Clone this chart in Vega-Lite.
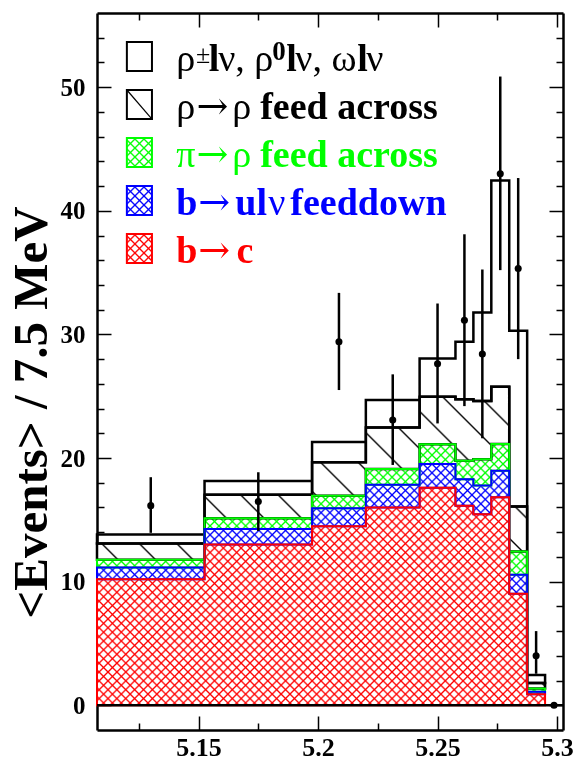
{
  "$schema": "https://vega.github.io/schema/vega-lite/v6.json",
  "width": 466,
  "height": 717,
  "autosize": {"type": "none"},
  "padding": {"left": 97, "top": 13, "right": 13, "bottom": 30},
  "background": "white",
  "config": {
    "view": {"stroke": null, "fill": "white"},
    "axis": {
      "grid": false, "zindex": 1, "labelFlush": false, "labelOverlap": false, "labelBound": false,
      "labelFont": "Liberation Serif", "labelFontWeight": "bold", "labelFontSize": 25, "labelColor": "#000",
      "tickColor": "#000", "tickWidth": 1.5, "domainColor": "#000", "domainWidth": 2.5,
      "titleFont": "Liberation Serif", "titleFontWeight": "bold", "titleColor": "#000"
    }
  },
  "datasets": {
    "bins": [
      {"lo": 5.1075, "hi": 5.1525, "bc": 10.2, "bu": 11.15, "pr": 11.77, "rr": 13.08, "sig": 13.82},
      {"lo": 5.1525, "hi": 5.1975, "bc": 13.0, "bu": 14.25, "pr": 15.13, "rr": 17.02, "sig": 18.15},
      {"lo": 5.1975, "hi": 5.22, "bc": 14.48, "bu": 15.94, "pr": 16.94, "rr": 19.66, "sig": 21.3},
      {"lo": 5.22, "hi": 5.2425, "bc": 16.0, "bu": 17.83, "pr": 19.12, "rr": 22.46, "sig": 24.69},
      {"lo": 5.2425, "hi": 5.2575, "bc": 17.6, "bu": 19.52, "pr": 21.11, "rr": 24.96, "sig": 28.06},
      {"lo": 5.2575, "hi": 5.265, "bc": 16.14, "bu": 18.29, "pr": 19.79, "rr": 24.76, "sig": 29.4},
      {"lo": 5.265, "hi": 5.2725, "bc": 15.46, "bu": 17.77, "pr": 19.9, "rr": 24.61, "sig": 31.77},
      {"lo": 5.2725, "hi": 5.28, "bc": 16.83, "bu": 18.98, "pr": 21.14, "rr": 25.77, "sig": 42.46},
      {"lo": 5.28, "hi": 5.2875, "bc": 9.02, "bu": 10.56, "pr": 12.44, "rr": 16.07, "sig": 30.3},
      {"lo": 5.2875, "hi": 5.295, "bc": 0.9, "bu": 1.1, "pr": 1.35, "rr": 1.8, "sig": 2.45}
    ],
    "points": [
      {"m": 5.13, "n": 16.15, "lo": 13.95, "hi": 18.45},
      {"m": 5.175, "n": 16.48, "lo": 14.1, "hi": 18.85},
      {"m": 5.20875, "n": 29.4, "lo": 25.5, "hi": 33.36},
      {"m": 5.23125, "n": 23.08, "lo": 19.44, "hi": 26.77},
      {"m": 5.25, "n": 27.63, "lo": 22.8, "hi": 32.5},
      {"m": 5.26125, "n": 31.15, "lo": 24.2, "hi": 38.1},
      {"m": 5.26875, "n": 28.41, "lo": 21.6, "hi": 35.25},
      {"m": 5.27625, "n": 43.0, "lo": 35.2, "hi": 50.86},
      {"m": 5.28375, "n": 35.33, "lo": 28.0, "hi": 42.65},
      {"m": 5.29125, "n": 4.0, "lo": 2.55, "hi": 6.0},
      {"m": 5.29875, "n": 0, "lo": 0, "hi": 0}
    ]
  },
  "resolve": {"axis": {"x": "independent", "y": "independent"}},
  "layer": [
    {
      "data": {"name": "bins"},
      "transform": [{"fold": ["lo", "hi"], "as": ["side", "x"]}],
      "mark": {"type": "area", "strokeWidth": 0, "fill": {"gradient": "linear", "x1": 0, "y1": 0, "x2": 1.1809, "y2": 0.6906, "stops": [
        {"offset":0,"color":"#000"},{"offset":0.0026,"color":"#fff"},{"offset":0.0099,"color":"#fff"},{"offset":0.0125,"color":"#000"},{"offset":0.0151,"color":"#fff"},{"offset":0.0224,"color":"#fff"},{"offset":0.025,"color":"#000"},{"offset":0.0276,"color":"#fff"},{"offset":0.0349,"color":"#fff"},{"offset":0.0375,"color":"#000"},{"offset":0.0401,"color":"#fff"},{"offset":0.0474,"color":"#fff"},{"offset":0.05,"color":"#000"},{"offset":0.0526,"color":"#fff"},{"offset":0.0599,"color":"#fff"},{"offset":0.0625,"color":"#000"},{"offset":0.0651,"color":"#fff"},{"offset":0.0724,"color":"#fff"},{"offset":0.075,"color":"#000"},{"offset":0.0776,"color":"#fff"},{"offset":0.0849,"color":"#fff"},{"offset":0.0875,"color":"#000"},{"offset":0.0901,"color":"#fff"},{"offset":0.0974,"color":"#fff"},
        {"offset":0.1,"color":"#000"},{"offset":0.1026,"color":"#fff"},{"offset":0.1099,"color":"#fff"},{"offset":0.1125,"color":"#000"},{"offset":0.1151,"color":"#fff"},{"offset":0.1224,"color":"#fff"},{"offset":0.125,"color":"#000"},{"offset":0.1276,"color":"#fff"},{"offset":0.1349,"color":"#fff"},{"offset":0.1375,"color":"#000"},{"offset":0.1401,"color":"#fff"},{"offset":0.1474,"color":"#fff"},{"offset":0.15,"color":"#000"},{"offset":0.1526,"color":"#fff"},{"offset":0.1599,"color":"#fff"},{"offset":0.1625,"color":"#000"},{"offset":0.1651,"color":"#fff"},{"offset":0.1724,"color":"#fff"},{"offset":0.175,"color":"#000"},{"offset":0.1776,"color":"#fff"},{"offset":0.1849,"color":"#fff"},{"offset":0.1875,"color":"#000"},{"offset":0.1901,"color":"#fff"},{"offset":0.1974,"color":"#fff"},
        {"offset":0.2,"color":"#000"},{"offset":0.2026,"color":"#fff"},{"offset":0.2099,"color":"#fff"},{"offset":0.2125,"color":"#000"},{"offset":0.2151,"color":"#fff"},{"offset":0.2224,"color":"#fff"},{"offset":0.225,"color":"#000"},{"offset":0.2276,"color":"#fff"},{"offset":0.2349,"color":"#fff"},{"offset":0.2375,"color":"#000"},{"offset":0.2401,"color":"#fff"},{"offset":0.2474,"color":"#fff"},{"offset":0.25,"color":"#000"},{"offset":0.2526,"color":"#fff"},{"offset":0.2599,"color":"#fff"},{"offset":0.2625,"color":"#000"},{"offset":0.2651,"color":"#fff"},{"offset":0.2724,"color":"#fff"},{"offset":0.275,"color":"#000"},{"offset":0.2776,"color":"#fff"},{"offset":0.2849,"color":"#fff"},{"offset":0.2875,"color":"#000"},{"offset":0.2901,"color":"#fff"},{"offset":0.2974,"color":"#fff"},
        {"offset":0.3,"color":"#000"},{"offset":0.3026,"color":"#fff"},{"offset":0.3099,"color":"#fff"},{"offset":0.3125,"color":"#000"},{"offset":0.3151,"color":"#fff"},{"offset":0.3224,"color":"#fff"},{"offset":0.325,"color":"#000"},{"offset":0.3276,"color":"#fff"},{"offset":0.3349,"color":"#fff"},{"offset":0.3375,"color":"#000"},{"offset":0.3401,"color":"#fff"},{"offset":0.3474,"color":"#fff"},{"offset":0.35,"color":"#000"},{"offset":0.3526,"color":"#fff"},{"offset":0.3599,"color":"#fff"},{"offset":0.3625,"color":"#000"},{"offset":0.3651,"color":"#fff"},{"offset":0.3724,"color":"#fff"},{"offset":0.375,"color":"#000"},{"offset":0.3776,"color":"#fff"},{"offset":0.3849,"color":"#fff"},{"offset":0.3875,"color":"#000"},{"offset":0.3901,"color":"#fff"},{"offset":0.3974,"color":"#fff"},
        {"offset":0.4,"color":"#000"},{"offset":0.4026,"color":"#fff"},{"offset":0.4099,"color":"#fff"},{"offset":0.4125,"color":"#000"},{"offset":0.4151,"color":"#fff"},{"offset":0.4224,"color":"#fff"},{"offset":0.425,"color":"#000"},{"offset":0.4276,"color":"#fff"},{"offset":0.4349,"color":"#fff"},{"offset":0.4375,"color":"#000"},{"offset":0.4401,"color":"#fff"},{"offset":0.4474,"color":"#fff"},{"offset":0.45,"color":"#000"},{"offset":0.4526,"color":"#fff"},{"offset":0.4599,"color":"#fff"},{"offset":0.4625,"color":"#000"},{"offset":0.4651,"color":"#fff"},{"offset":0.4724,"color":"#fff"},{"offset":0.475,"color":"#000"},{"offset":0.4776,"color":"#fff"},{"offset":0.4849,"color":"#fff"},{"offset":0.4875,"color":"#000"},{"offset":0.4901,"color":"#fff"},{"offset":0.4974,"color":"#fff"},
        {"offset":0.5,"color":"#000"},{"offset":0.5026,"color":"#fff"},{"offset":0.5099,"color":"#fff"},{"offset":0.5125,"color":"#000"},{"offset":0.5151,"color":"#fff"},{"offset":0.5224,"color":"#fff"},{"offset":0.525,"color":"#000"},{"offset":0.5276,"color":"#fff"},{"offset":0.5349,"color":"#fff"},{"offset":0.5375,"color":"#000"},{"offset":0.5401,"color":"#fff"},{"offset":0.5474,"color":"#fff"},{"offset":0.55,"color":"#000"},{"offset":0.5526,"color":"#fff"},{"offset":0.5599,"color":"#fff"},{"offset":0.5625,"color":"#000"},{"offset":0.5651,"color":"#fff"},{"offset":0.5724,"color":"#fff"},{"offset":0.575,"color":"#000"},{"offset":0.5776,"color":"#fff"},{"offset":0.5849,"color":"#fff"},{"offset":0.5875,"color":"#000"},{"offset":0.5901,"color":"#fff"},{"offset":0.5974,"color":"#fff"},
        {"offset":0.6,"color":"#000"},{"offset":0.6026,"color":"#fff"},{"offset":0.6099,"color":"#fff"},{"offset":0.6125,"color":"#000"},{"offset":0.6151,"color":"#fff"},{"offset":0.6224,"color":"#fff"},{"offset":0.625,"color":"#000"},{"offset":0.6276,"color":"#fff"},{"offset":0.6349,"color":"#fff"},{"offset":0.6375,"color":"#000"},{"offset":0.6401,"color":"#fff"},{"offset":0.6474,"color":"#fff"},{"offset":0.65,"color":"#000"},{"offset":0.6526,"color":"#fff"},{"offset":0.6599,"color":"#fff"},{"offset":0.6625,"color":"#000"},{"offset":0.6651,"color":"#fff"},{"offset":0.6724,"color":"#fff"},{"offset":0.675,"color":"#000"},{"offset":0.6776,"color":"#fff"},{"offset":0.6849,"color":"#fff"},{"offset":0.6875,"color":"#000"},{"offset":0.6901,"color":"#fff"},{"offset":0.6974,"color":"#fff"},
        {"offset":0.7,"color":"#000"},{"offset":0.7026,"color":"#fff"},{"offset":0.7099,"color":"#fff"},{"offset":0.7125,"color":"#000"},{"offset":0.7151,"color":"#fff"},{"offset":0.7224,"color":"#fff"},{"offset":0.725,"color":"#000"},{"offset":0.7276,"color":"#fff"},{"offset":0.7349,"color":"#fff"},{"offset":0.7375,"color":"#000"},{"offset":0.7401,"color":"#fff"},{"offset":0.7474,"color":"#fff"},{"offset":0.75,"color":"#000"},{"offset":0.7526,"color":"#fff"},{"offset":0.7599,"color":"#fff"},{"offset":0.7625,"color":"#000"},{"offset":0.7651,"color":"#fff"},{"offset":0.7724,"color":"#fff"},{"offset":0.775,"color":"#000"},{"offset":0.7776,"color":"#fff"},{"offset":0.7849,"color":"#fff"},{"offset":0.7875,"color":"#000"},{"offset":0.7901,"color":"#fff"},{"offset":0.7974,"color":"#fff"},
        {"offset":0.8,"color":"#000"},{"offset":0.8026,"color":"#fff"},{"offset":0.8099,"color":"#fff"},{"offset":0.8125,"color":"#000"},{"offset":0.8151,"color":"#fff"},{"offset":0.8224,"color":"#fff"},{"offset":0.825,"color":"#000"},{"offset":0.8276,"color":"#fff"},{"offset":0.8349,"color":"#fff"},{"offset":0.8375,"color":"#000"},{"offset":0.8401,"color":"#fff"},{"offset":0.8474,"color":"#fff"},{"offset":0.85,"color":"#000"},{"offset":0.8526,"color":"#fff"},{"offset":0.8599,"color":"#fff"},{"offset":0.8625,"color":"#000"},{"offset":0.8651,"color":"#fff"},{"offset":0.8724,"color":"#fff"},{"offset":0.875,"color":"#000"},{"offset":0.8776,"color":"#fff"},{"offset":0.8849,"color":"#fff"},{"offset":0.8875,"color":"#000"},{"offset":0.8901,"color":"#fff"},{"offset":0.8974,"color":"#fff"},
        {"offset":0.9,"color":"#000"},{"offset":0.9026,"color":"#fff"},{"offset":0.9099,"color":"#fff"},{"offset":0.9125,"color":"#000"},{"offset":0.9151,"color":"#fff"},{"offset":0.9224,"color":"#fff"},{"offset":0.925,"color":"#000"},{"offset":0.9276,"color":"#fff"},{"offset":0.9349,"color":"#fff"},{"offset":0.9375,"color":"#000"},{"offset":0.9401,"color":"#fff"},{"offset":0.9474,"color":"#fff"},{"offset":0.95,"color":"#000"},{"offset":0.9526,"color":"#fff"},{"offset":0.9599,"color":"#fff"},{"offset":0.9625,"color":"#000"},{"offset":0.9651,"color":"#fff"},{"offset":0.9724,"color":"#fff"},{"offset":0.975,"color":"#000"},{"offset":0.9776,"color":"#fff"},{"offset":0.9849,"color":"#fff"},{"offset":0.9875,"color":"#000"},{"offset":0.9901,"color":"#fff"},{"offset":0.9974,"color":"#fff"},
        {"offset":1,"color":"#000"}]}},
      "encoding": {
        "x": {"field": "x", "type": "quantitative", "scale": {"domain": [5.1075, 5.3025], "nice": false, "zero": false},
          "axis": {"orient": "bottom", "values": [5.15, 5.2, 5.25, 5.3], "format": "~g", "ticks": false, "domain": false, "labelPadding": 4, "labelFontSize": 26, "title": null}},
        "y": {"field": "pr", "type": "quantitative", "scale": {"domain": [-2, 56], "nice": false, "zero": false},
          "axis": {"orient": "left", "values": [0, 10, 20, 30, 40, 50], "format": "d", "ticks": false, "domain": false, "labelPadding": 12,
            "title": "<Events> / 7.5 MeV", "titleFont": "Liberation Serif", "titleFontWeight": "bold", "titleFontSize": 49, "titleAngle": 270, "titleX": -51, "titleY": 399, "titleAlign": "center", "titleBaseline": "alphabetic"}},
        "y2": {"datum": 0}
      }
    },
    {
      "data": {"name": "bins"},
      "transform": [{"fold": ["lo", "hi"], "as": ["side", "x"]}],
      "mark": {"type": "area", "strokeWidth": 0, "blend": "multiply", "fill": {"gradient": "linear", "x1": 0, "y1": 1, "x2": 1.1809, "y2": 0.3094, "stops": [
        {"offset":0,"color":"#000"},{"offset":0.0026,"color":"#fff"},{"offset":0.0099,"color":"#fff"},{"offset":0.0125,"color":"#000"},{"offset":0.0151,"color":"#fff"},{"offset":0.0224,"color":"#fff"},{"offset":0.025,"color":"#000"},{"offset":0.0276,"color":"#fff"},{"offset":0.0349,"color":"#fff"},{"offset":0.0375,"color":"#000"},{"offset":0.0401,"color":"#fff"},{"offset":0.0474,"color":"#fff"},{"offset":0.05,"color":"#000"},{"offset":0.0526,"color":"#fff"},{"offset":0.0599,"color":"#fff"},{"offset":0.0625,"color":"#000"},{"offset":0.0651,"color":"#fff"},{"offset":0.0724,"color":"#fff"},{"offset":0.075,"color":"#000"},{"offset":0.0776,"color":"#fff"},{"offset":0.0849,"color":"#fff"},{"offset":0.0875,"color":"#000"},{"offset":0.0901,"color":"#fff"},{"offset":0.0974,"color":"#fff"},
        {"offset":0.1,"color":"#000"},{"offset":0.1026,"color":"#fff"},{"offset":0.1099,"color":"#fff"},{"offset":0.1125,"color":"#000"},{"offset":0.1151,"color":"#fff"},{"offset":0.1224,"color":"#fff"},{"offset":0.125,"color":"#000"},{"offset":0.1276,"color":"#fff"},{"offset":0.1349,"color":"#fff"},{"offset":0.1375,"color":"#000"},{"offset":0.1401,"color":"#fff"},{"offset":0.1474,"color":"#fff"},{"offset":0.15,"color":"#000"},{"offset":0.1526,"color":"#fff"},{"offset":0.1599,"color":"#fff"},{"offset":0.1625,"color":"#000"},{"offset":0.1651,"color":"#fff"},{"offset":0.1724,"color":"#fff"},{"offset":0.175,"color":"#000"},{"offset":0.1776,"color":"#fff"},{"offset":0.1849,"color":"#fff"},{"offset":0.1875,"color":"#000"},{"offset":0.1901,"color":"#fff"},{"offset":0.1974,"color":"#fff"},
        {"offset":0.2,"color":"#000"},{"offset":0.2026,"color":"#fff"},{"offset":0.2099,"color":"#fff"},{"offset":0.2125,"color":"#000"},{"offset":0.2151,"color":"#fff"},{"offset":0.2224,"color":"#fff"},{"offset":0.225,"color":"#000"},{"offset":0.2276,"color":"#fff"},{"offset":0.2349,"color":"#fff"},{"offset":0.2375,"color":"#000"},{"offset":0.2401,"color":"#fff"},{"offset":0.2474,"color":"#fff"},{"offset":0.25,"color":"#000"},{"offset":0.2526,"color":"#fff"},{"offset":0.2599,"color":"#fff"},{"offset":0.2625,"color":"#000"},{"offset":0.2651,"color":"#fff"},{"offset":0.2724,"color":"#fff"},{"offset":0.275,"color":"#000"},{"offset":0.2776,"color":"#fff"},{"offset":0.2849,"color":"#fff"},{"offset":0.2875,"color":"#000"},{"offset":0.2901,"color":"#fff"},{"offset":0.2974,"color":"#fff"},
        {"offset":0.3,"color":"#000"},{"offset":0.3026,"color":"#fff"},{"offset":0.3099,"color":"#fff"},{"offset":0.3125,"color":"#000"},{"offset":0.3151,"color":"#fff"},{"offset":0.3224,"color":"#fff"},{"offset":0.325,"color":"#000"},{"offset":0.3276,"color":"#fff"},{"offset":0.3349,"color":"#fff"},{"offset":0.3375,"color":"#000"},{"offset":0.3401,"color":"#fff"},{"offset":0.3474,"color":"#fff"},{"offset":0.35,"color":"#000"},{"offset":0.3526,"color":"#fff"},{"offset":0.3599,"color":"#fff"},{"offset":0.3625,"color":"#000"},{"offset":0.3651,"color":"#fff"},{"offset":0.3724,"color":"#fff"},{"offset":0.375,"color":"#000"},{"offset":0.3776,"color":"#fff"},{"offset":0.3849,"color":"#fff"},{"offset":0.3875,"color":"#000"},{"offset":0.3901,"color":"#fff"},{"offset":0.3974,"color":"#fff"},
        {"offset":0.4,"color":"#000"},{"offset":0.4026,"color":"#fff"},{"offset":0.4099,"color":"#fff"},{"offset":0.4125,"color":"#000"},{"offset":0.4151,"color":"#fff"},{"offset":0.4224,"color":"#fff"},{"offset":0.425,"color":"#000"},{"offset":0.4276,"color":"#fff"},{"offset":0.4349,"color":"#fff"},{"offset":0.4375,"color":"#000"},{"offset":0.4401,"color":"#fff"},{"offset":0.4474,"color":"#fff"},{"offset":0.45,"color":"#000"},{"offset":0.4526,"color":"#fff"},{"offset":0.4599,"color":"#fff"},{"offset":0.4625,"color":"#000"},{"offset":0.4651,"color":"#fff"},{"offset":0.4724,"color":"#fff"},{"offset":0.475,"color":"#000"},{"offset":0.4776,"color":"#fff"},{"offset":0.4849,"color":"#fff"},{"offset":0.4875,"color":"#000"},{"offset":0.4901,"color":"#fff"},{"offset":0.4974,"color":"#fff"},
        {"offset":0.5,"color":"#000"},{"offset":0.5026,"color":"#fff"},{"offset":0.5099,"color":"#fff"},{"offset":0.5125,"color":"#000"},{"offset":0.5151,"color":"#fff"},{"offset":0.5224,"color":"#fff"},{"offset":0.525,"color":"#000"},{"offset":0.5276,"color":"#fff"},{"offset":0.5349,"color":"#fff"},{"offset":0.5375,"color":"#000"},{"offset":0.5401,"color":"#fff"},{"offset":0.5474,"color":"#fff"},{"offset":0.55,"color":"#000"},{"offset":0.5526,"color":"#fff"},{"offset":0.5599,"color":"#fff"},{"offset":0.5625,"color":"#000"},{"offset":0.5651,"color":"#fff"},{"offset":0.5724,"color":"#fff"},{"offset":0.575,"color":"#000"},{"offset":0.5776,"color":"#fff"},{"offset":0.5849,"color":"#fff"},{"offset":0.5875,"color":"#000"},{"offset":0.5901,"color":"#fff"},{"offset":0.5974,"color":"#fff"},
        {"offset":0.6,"color":"#000"},{"offset":0.6026,"color":"#fff"},{"offset":0.6099,"color":"#fff"},{"offset":0.6125,"color":"#000"},{"offset":0.6151,"color":"#fff"},{"offset":0.6224,"color":"#fff"},{"offset":0.625,"color":"#000"},{"offset":0.6276,"color":"#fff"},{"offset":0.6349,"color":"#fff"},{"offset":0.6375,"color":"#000"},{"offset":0.6401,"color":"#fff"},{"offset":0.6474,"color":"#fff"},{"offset":0.65,"color":"#000"},{"offset":0.6526,"color":"#fff"},{"offset":0.6599,"color":"#fff"},{"offset":0.6625,"color":"#000"},{"offset":0.6651,"color":"#fff"},{"offset":0.6724,"color":"#fff"},{"offset":0.675,"color":"#000"},{"offset":0.6776,"color":"#fff"},{"offset":0.6849,"color":"#fff"},{"offset":0.6875,"color":"#000"},{"offset":0.6901,"color":"#fff"},{"offset":0.6974,"color":"#fff"},
        {"offset":0.7,"color":"#000"},{"offset":0.7026,"color":"#fff"},{"offset":0.7099,"color":"#fff"},{"offset":0.7125,"color":"#000"},{"offset":0.7151,"color":"#fff"},{"offset":0.7224,"color":"#fff"},{"offset":0.725,"color":"#000"},{"offset":0.7276,"color":"#fff"},{"offset":0.7349,"color":"#fff"},{"offset":0.7375,"color":"#000"},{"offset":0.7401,"color":"#fff"},{"offset":0.7474,"color":"#fff"},{"offset":0.75,"color":"#000"},{"offset":0.7526,"color":"#fff"},{"offset":0.7599,"color":"#fff"},{"offset":0.7625,"color":"#000"},{"offset":0.7651,"color":"#fff"},{"offset":0.7724,"color":"#fff"},{"offset":0.775,"color":"#000"},{"offset":0.7776,"color":"#fff"},{"offset":0.7849,"color":"#fff"},{"offset":0.7875,"color":"#000"},{"offset":0.7901,"color":"#fff"},{"offset":0.7974,"color":"#fff"},
        {"offset":0.8,"color":"#000"},{"offset":0.8026,"color":"#fff"},{"offset":0.8099,"color":"#fff"},{"offset":0.8125,"color":"#000"},{"offset":0.8151,"color":"#fff"},{"offset":0.8224,"color":"#fff"},{"offset":0.825,"color":"#000"},{"offset":0.8276,"color":"#fff"},{"offset":0.8349,"color":"#fff"},{"offset":0.8375,"color":"#000"},{"offset":0.8401,"color":"#fff"},{"offset":0.8474,"color":"#fff"},{"offset":0.85,"color":"#000"},{"offset":0.8526,"color":"#fff"},{"offset":0.8599,"color":"#fff"},{"offset":0.8625,"color":"#000"},{"offset":0.8651,"color":"#fff"},{"offset":0.8724,"color":"#fff"},{"offset":0.875,"color":"#000"},{"offset":0.8776,"color":"#fff"},{"offset":0.8849,"color":"#fff"},{"offset":0.8875,"color":"#000"},{"offset":0.8901,"color":"#fff"},{"offset":0.8974,"color":"#fff"},
        {"offset":0.9,"color":"#000"},{"offset":0.9026,"color":"#fff"},{"offset":0.9099,"color":"#fff"},{"offset":0.9125,"color":"#000"},{"offset":0.9151,"color":"#fff"},{"offset":0.9224,"color":"#fff"},{"offset":0.925,"color":"#000"},{"offset":0.9276,"color":"#fff"},{"offset":0.9349,"color":"#fff"},{"offset":0.9375,"color":"#000"},{"offset":0.9401,"color":"#fff"},{"offset":0.9474,"color":"#fff"},{"offset":0.95,"color":"#000"},{"offset":0.9526,"color":"#fff"},{"offset":0.9599,"color":"#fff"},{"offset":0.9625,"color":"#000"},{"offset":0.9651,"color":"#fff"},{"offset":0.9724,"color":"#fff"},{"offset":0.975,"color":"#000"},{"offset":0.9776,"color":"#fff"},{"offset":0.9849,"color":"#fff"},{"offset":0.9875,"color":"#000"},{"offset":0.9901,"color":"#fff"},{"offset":0.9974,"color":"#fff"},
        {"offset":1,"color":"#000"}]}},
      "encoding": {
        "x": {"field": "x", "type": "quantitative",
          "axis": {"orient": "bottom", "values": [5.15, 5.2, 5.25, 5.3], "labels": false, "tickSize": -14, "domain": true, "title": null}},
        "y": {"field": "pr", "type": "quantitative",
          "axis": {"orient": "left", "values": [0, 10, 20, 30, 40, 50], "labels": false, "tickSize": -14, "domain": true, "title": null}},
        "y2": {"datum": 0}
      }
    },
    {
      "data": {"name": "bins"},
      "transform": [{"fold": ["lo", "hi"], "as": ["side", "x"]}],
      "mark": {"type": "area", "strokeWidth": 0, "blend": "screen", "fill": "#ff0000"},
      "encoding": {
        "x": {"field": "x", "type": "quantitative",
          "axis": {"orient": "top", "values": [5.15, 5.2, 5.25, 5.3], "labels": false, "tickSize": -14, "domain": true, "title": null}},
        "y": {"field": "bc", "type": "quantitative",
          "axis": {"orient": "right", "values": [0, 10, 20, 30, 40, 50], "labels": false, "tickSize": -14, "domain": true, "title": null}},
        "y2": {"datum": 0}
      }
    },
    {
      "data": {"name": "bins"},
      "transform": [{"fold": ["lo", "hi"], "as": ["side", "x"]}],
      "mark": {"type": "area", "strokeWidth": 0, "blend": "screen", "fill": "#0000ff"},
      "encoding": {
        "x": {"field": "x", "type": "quantitative",
          "axis": {"orient": "bottom", "values": [5.125, 5.175, 5.225, 5.275], "labels": false, "tickSize": -7, "domain": false, "title": null}},
        "y": {"field": "bu", "type": "quantitative",
          "axis": {"orient": "left", "values": [2, 4, 6, 8, 12, 14, 16, 18, 22, 24, 26, 28, 32, 34, 36, 38, 42, 44, 46, 48, 52, 54], "labels": false, "tickSize": -7, "domain": false, "title": null}},
        "y2": {"field": "bc"}
      }
    },
    {
      "data": {"name": "bins"},
      "transform": [{"fold": ["lo", "hi"], "as": ["side", "x"]}],
      "mark": {"type": "area", "strokeWidth": 0, "blend": "screen", "fill": "#00ff00"},
      "encoding": {
        "x": {"field": "x", "type": "quantitative",
          "axis": {"orient": "top", "values": [5.125, 5.175, 5.225, 5.275], "labels": false, "tickSize": -7, "domain": false, "title": null}},
        "y": {"field": "pr", "type": "quantitative",
          "axis": {"orient": "right", "values": [2, 4, 6, 8, 12, 14, 16, 18, 22, 24, 26, 28, 32, 34, 36, 38, 42, 44, 46, 48, 52, 54], "labels": false, "tickSize": -7, "domain": false, "title": null}},
        "y2": {"field": "bu"}
      }
    },
    {
      "data": {"name": "bins"},
      "transform": [{"fold": ["lo", "hi"], "as": ["side", "x"]}],
      "mark": {"type": "area", "strokeWidth": 0, "fill": {"gradient": "linear", "x1": 0, "y1": 1, "x2": 1.1506, "y2": 0.2231, "stops": [
        {"offset":0,"color":"#fff"},
        {"offset":0.0474,"color":"#fff"},{"offset":0.05,"color":"#000"},{"offset":0.0526,"color":"#fff"},
        {"offset":0.0974,"color":"#fff"},{"offset":0.1,"color":"#000"},{"offset":0.1026,"color":"#fff"},
        {"offset":0.1474,"color":"#fff"},{"offset":0.15,"color":"#000"},{"offset":0.1526,"color":"#fff"},
        {"offset":0.1974,"color":"#fff"},{"offset":0.2,"color":"#000"},{"offset":0.2026,"color":"#fff"},
        {"offset":0.2474,"color":"#fff"},{"offset":0.25,"color":"#000"},{"offset":0.2526,"color":"#fff"},
        {"offset":0.2974,"color":"#fff"},{"offset":0.3,"color":"#000"},{"offset":0.3026,"color":"#fff"},
        {"offset":0.3474,"color":"#fff"},{"offset":0.35,"color":"#000"},{"offset":0.3526,"color":"#fff"},
        {"offset":0.3974,"color":"#fff"},{"offset":0.4,"color":"#000"},{"offset":0.4026,"color":"#fff"},
        {"offset":0.4474,"color":"#fff"},{"offset":0.45,"color":"#000"},{"offset":0.4526,"color":"#fff"},
        {"offset":0.4974,"color":"#fff"},{"offset":0.5,"color":"#000"},{"offset":0.5026,"color":"#fff"},
        {"offset":0.5474,"color":"#fff"},{"offset":0.55,"color":"#000"},{"offset":0.5526,"color":"#fff"},
        {"offset":0.5974,"color":"#fff"},{"offset":0.6,"color":"#000"},{"offset":0.6026,"color":"#fff"},
        {"offset":0.6474,"color":"#fff"},{"offset":0.65,"color":"#000"},{"offset":0.6526,"color":"#fff"},
        {"offset":0.6974,"color":"#fff"},{"offset":0.7,"color":"#000"},{"offset":0.7026,"color":"#fff"},
        {"offset":0.7474,"color":"#fff"},{"offset":0.75,"color":"#000"},{"offset":0.7526,"color":"#fff"},
        {"offset":0.7974,"color":"#fff"},{"offset":0.8,"color":"#000"},{"offset":0.8026,"color":"#fff"},
        {"offset":0.8474,"color":"#fff"},{"offset":0.85,"color":"#000"},{"offset":0.8526,"color":"#fff"},
        {"offset":0.8974,"color":"#fff"},{"offset":0.9,"color":"#000"},{"offset":0.9026,"color":"#fff"},
        {"offset":0.9474,"color":"#fff"},{"offset":0.95,"color":"#000"},{"offset":0.9526,"color":"#fff"},
        {"offset":1,"color":"#fff"}]}},
      "encoding": {
        "x": {"field": "x", "type": "quantitative", "axis": null},
        "y": {"field": "rr", "type": "quantitative", "axis": null},
        "y2": {"field": "pr"}
      }
    },
    {
      "data": {"name": "bins"},
      "transform": [{"fold": ["lo", "hi"], "as": ["side", "x"]}],
      "mark": {"type": "area", "fillOpacity": 0, "stroke": "#000", "strokeWidth": 2.5},
      "encoding": {
        "x": {"field": "x", "type": "quantitative", "axis": null},
        "y": {"field": "sig", "type": "quantitative", "axis": null},
        "y2": {"field": "rr"}
      }
    },
    {
      "data": {"name": "bins"},
      "transform": [{"fold": ["lo", "hi"], "as": ["side", "x"]}],
      "mark": {"type": "area", "fillOpacity": 0, "stroke": "#000", "strokeWidth": 2.5},
      "encoding": {
        "x": {"field": "x", "type": "quantitative", "axis": null},
        "y": {"field": "rr", "type": "quantitative", "axis": null},
        "y2": {"field": "pr"}
      }
    },
    {
      "data": {"name": "bins"},
      "transform": [{"fold": ["lo", "hi"], "as": ["side", "x"]}],
      "mark": {"type": "area", "fillOpacity": 0, "stroke": "#00ff00", "strokeWidth": 2},
      "encoding": {
        "x": {"field": "x", "type": "quantitative", "axis": null},
        "y": {"field": "pr", "type": "quantitative", "axis": null},
        "y2": {"field": "bu"}
      }
    },
    {
      "data": {"name": "bins"},
      "transform": [{"fold": ["lo", "hi"], "as": ["side", "x"]}],
      "mark": {"type": "area", "fillOpacity": 0, "stroke": "#0000ff", "strokeWidth": 2},
      "encoding": {
        "x": {"field": "x", "type": "quantitative", "axis": null},
        "y": {"field": "bu", "type": "quantitative", "axis": null},
        "y2": {"field": "bc"}
      }
    },
    {
      "data": {"name": "bins"},
      "transform": [{"fold": ["lo", "hi"], "as": ["side", "x"]}],
      "mark": {"type": "area", "fillOpacity": 0, "stroke": "#ff0000", "strokeWidth": 2},
      "encoding": {
        "x": {"field": "x", "type": "quantitative", "axis": null},
        "y": {"field": "bc", "type": "quantitative", "axis": null},
        "y2": {"datum": 0}
      }
    },
    {
      "data": {"values": [{}]},
      "mark": {"type": "rule", "color": "#000", "strokeWidth": 2.5},
      "encoding": {"y": {"datum": 0, "type": "quantitative", "axis": null}}
    },
    {
      "data": {"name": "points"},
      "mark": {"type": "rule", "color": "#000", "strokeWidth": 2.5},
      "encoding": {
        "x": {"field": "m", "type": "quantitative", "axis": null},
        "y": {"field": "lo", "type": "quantitative", "axis": null},
        "y2": {"field": "hi"}
      }
    },
    {
      "data": {"name": "points"},
      "mark": {"type": "point", "filled": true, "size": 50, "color": "#000", "opacity": 1},
      "encoding": {
        "x": {"field": "m", "type": "quantitative", "axis": null},
        "y": {"field": "n", "type": "quantitative", "axis": null}
      }
    },
    {
      "data": {"values": [{}]},
      "mark": {"type": "rect", "fill": "#fff", "stroke": "#000", "strokeWidth": 2, "opacity": 1},
      "encoding": {"x": {"datum": 5.12, "axis": null}, "x2": {"datum": 5.1305}, "y": {"datum": 53.65, "axis": null}, "y2": {"datum": 51.3}}
    },
    {
      "data": {"values": [{}]},
      "mark": {"type": "rect", "fill": "#fff", "stroke": "#000", "strokeWidth": 2, "opacity": 1},
      "encoding": {"x": {"datum": 5.12, "axis": null}, "x2": {"datum": 5.1305}, "y": {"datum": 49.77, "axis": null}, "y2": {"datum": 47.42}}
    },
    {
      "data": {"values": [{}]},
      "mark": {"type": "rule", "color": "#000", "strokeWidth": 1.2},
      "encoding": {"x": {"datum": 5.12, "axis": null}, "x2": {"datum": 5.1305}, "y": {"datum": 49.77, "axis": null}, "y2": {"datum": 47.42}}
    },
    {
      "data": {"values": [{"c": "#00ff00", "top": 45.89, "bot": 43.54}, {"c": "#0000ff", "top": 42.01, "bot": 39.66}, {"c": "#ff0000", "top": 38.13, "bot": 35.78}]},
      "mark": {"type": "rect", "opacity": 1, "fill": {"gradient": "linear", "x1": 0, "y1": 0, "x2": 0.9209, "y2": 1.0683, "stops": [
        {"offset":0,"color":"#000"},{"offset":0.034,"color":"#fff"},{"offset":0.1327,"color":"#fff"},{"offset":0.1667,"color":"#000"},{"offset":0.2007,"color":"#fff"},{"offset":0.2993,"color":"#fff"},{"offset":0.3333,"color":"#000"},{"offset":0.3673,"color":"#fff"},{"offset":0.466,"color":"#fff"},{"offset":0.5,"color":"#000"},{"offset":0.534,"color":"#fff"},{"offset":0.6327,"color":"#fff"},{"offset":0.6667,"color":"#000"},{"offset":0.7007,"color":"#fff"},{"offset":0.7993,"color":"#fff"},{"offset":0.8333,"color":"#000"},{"offset":0.8673,"color":"#fff"},{"offset":0.966,"color":"#fff"},{"offset":1,"color":"#000"}]}},
      "encoding": {"x": {"datum": 5.12, "axis": null}, "x2": {"datum": 5.1305}, "y": {"field": "top", "type": "quantitative", "axis": null}, "y2": {"field": "bot"}}
    },
    {
      "data": {"values": [{"c": "#00ff00", "top": 45.89, "bot": 43.54}, {"c": "#0000ff", "top": 42.01, "bot": 39.66}, {"c": "#ff0000", "top": 38.13, "bot": 35.78}]},
      "mark": {"type": "rect", "opacity": 1, "blend": "multiply", "fill": {"gradient": "linear", "x1": 0, "y1": 1, "x2": 0.9209, "y2": -0.0683, "stops": [
        {"offset":0,"color":"#000"},{"offset":0.034,"color":"#fff"},{"offset":0.1327,"color":"#fff"},{"offset":0.1667,"color":"#000"},{"offset":0.2007,"color":"#fff"},{"offset":0.2993,"color":"#fff"},{"offset":0.3333,"color":"#000"},{"offset":0.3673,"color":"#fff"},{"offset":0.466,"color":"#fff"},{"offset":0.5,"color":"#000"},{"offset":0.534,"color":"#fff"},{"offset":0.6327,"color":"#fff"},{"offset":0.6667,"color":"#000"},{"offset":0.7007,"color":"#fff"},{"offset":0.7993,"color":"#fff"},{"offset":0.8333,"color":"#000"},{"offset":0.8673,"color":"#fff"},{"offset":0.966,"color":"#fff"},{"offset":1,"color":"#000"}]}},
      "encoding": {"x": {"datum": 5.12, "axis": null}, "x2": {"datum": 5.1305}, "y": {"field": "top", "type": "quantitative", "axis": null}, "y2": {"field": "bot"}}
    },
    {
      "data": {"values": [{"c": "#00ff00", "top": 45.89, "bot": 43.54}, {"c": "#0000ff", "top": 42.01, "bot": 39.66}, {"c": "#ff0000", "top": 38.13, "bot": 35.78}]},
      "mark": {"type": "rect", "opacity": 1, "blend": "screen"},
      "encoding": {"x": {"datum": 5.12, "axis": null}, "x2": {"datum": 5.1305}, "y": {"field": "top", "type": "quantitative", "axis": null}, "y2": {"field": "bot"},
        "fill": {"field": "c", "type": "nominal", "scale": null, "legend": null}}
    },
    {
      "data": {"values": [{"c": "#00ff00", "top": 45.89, "bot": 43.54}, {"c": "#0000ff", "top": 42.01, "bot": 39.66}, {"c": "#ff0000", "top": 38.13, "bot": 35.78}]},
      "mark": {"type": "rect", "fillOpacity": 0, "strokeWidth": 2},
      "encoding": {"x": {"datum": 5.12, "axis": null}, "x2": {"datum": 5.1305}, "y": {"field": "top", "type": "quantitative", "axis": null}, "y2": {"field": "bot"},
        "stroke": {"field": "c", "type": "nominal", "scale": null, "legend": null}}
    },
    {"data": {"values": [{}]}, "mark": {"type": "text", "align": "left", "baseline": "alphabetic", "font": "Liberation Serif", "fontSize": 38, "fontWeight": "normal", "color": "#000"},
      "encoding": {"x": {"datum": 5.1407, "axis": null}, "y": {"datum": 51.3, "axis": null}, "text": {"value": "ρ"}}},
    {"data": {"values": [{}]}, "mark": {"type": "text", "align": "left", "baseline": "alphabetic", "font": "Liberation Serif", "fontSize": 26, "fontWeight": "normal", "color": "#000"},
      "encoding": {"x": {"datum": 5.1489, "axis": null}, "y": {"datum": 51.95, "axis": null}, "text": {"value": "±"}}},
    {"data": {"values": [{}]}, "mark": {"type": "text", "align": "left", "baseline": "alphabetic", "font": "Liberation Serif", "fontSize": 38, "fontWeight": "bold", "color": "#000"},
      "encoding": {"x": {"datum": 5.1543, "axis": null}, "y": {"datum": 51.3, "axis": null}, "text": {"value": "l"}}},
    {"data": {"values": [{}]}, "mark": {"type": "text", "align": "left", "baseline": "alphabetic", "font": "Liberation Serif", "fontSize": 38, "fontWeight": "normal", "color": "#000"},
      "encoding": {"x": {"datum": 5.1582, "axis": null}, "y": {"datum": 51.3, "axis": null}, "text": {"value": "ν, ρ"}}},
    {"data": {"values": [{}]}, "mark": {"type": "text", "align": "left", "baseline": "alphabetic", "font": "Liberation Serif", "fontSize": 27, "fontWeight": "bold", "color": "#000"},
      "encoding": {"x": {"datum": 5.1808, "axis": null}, "y": {"datum": 52.2, "axis": null}, "text": {"value": "0"}}},
    {"data": {"values": [{}]}, "mark": {"type": "text", "align": "left", "baseline": "alphabetic", "font": "Liberation Serif", "fontSize": 38, "fontWeight": "bold", "color": "#000"},
      "encoding": {"x": {"datum": 5.1867, "axis": null}, "y": {"datum": 51.3, "axis": null}, "text": {"value": "l"}}},
    {"data": {"values": [{}]}, "mark": {"type": "text", "align": "left", "baseline": "alphabetic", "font": "Liberation Serif", "fontSize": 38, "fontWeight": "normal", "color": "#000"},
      "encoding": {"x": {"datum": 5.1905, "axis": null}, "y": {"datum": 51.3, "axis": null}, "text": {"value": "ν, ω"}}},
    {"data": {"values": [{}]}, "mark": {"type": "text", "align": "left", "baseline": "alphabetic", "font": "Liberation Serif", "fontSize": 38, "fontWeight": "bold", "color": "#000"},
      "encoding": {"x": {"datum": 5.2164, "axis": null}, "y": {"datum": 51.3, "axis": null}, "text": {"value": "l"}}},
    {"data": {"values": [{}]}, "mark": {"type": "text", "align": "left", "baseline": "alphabetic", "font": "Liberation Serif", "fontSize": 38, "fontWeight": "normal", "color": "#000"},
      "encoding": {"x": {"datum": 5.2202, "axis": null}, "y": {"datum": 51.3, "axis": null}, "text": {"value": "ν"}}},
    {"data": {"values": [{}]}, "mark": {"type": "text", "align": "left", "baseline": "alphabetic", "font": "Liberation Serif", "fontSize": 38, "fontWeight": "normal", "color": "#000"},
      "encoding": {"x": {"datum": 5.1407, "axis": null}, "y": {"datum": 47.42, "axis": null}, "text": {"value": "ρ"}}},
    {"data": {"values": [{}]}, "mark": {"type": "text", "align": "left", "baseline": "alphabetic", "font": "DejaVu Serif", "fontSize": 38, "fontWeight": "normal", "color": "#000"},
      "encoding": {"x": {"datum": 5.1491, "axis": null}, "y": {"datum": 47.42, "axis": null}, "text": {"value": "→"}}},
    {"data": {"values": [{}]}, "mark": {"type": "text", "align": "left", "baseline": "alphabetic", "font": "Liberation Serif", "fontSize": 38, "fontWeight": "normal", "color": "#000"},
      "encoding": {"x": {"datum": 5.1641, "axis": null}, "y": {"datum": 47.42, "axis": null}, "text": {"value": "ρ"}}},
    {"data": {"values": [{}]}, "mark": {"type": "text", "align": "left", "baseline": "alphabetic", "font": "Liberation Serif", "fontSize": 38, "fontWeight": "bold", "color": "#000"},
      "encoding": {"x": {"datum": 5.1758, "axis": null}, "y": {"datum": 47.42, "axis": null}, "text": {"value": "feed across"}}},
    {"data": {"values": [{}]}, "mark": {"type": "text", "align": "left", "baseline": "alphabetic", "font": "Liberation Serif", "fontSize": 38, "fontWeight": "normal", "color": "#00ff00"},
      "encoding": {"x": {"datum": 5.1407, "axis": null}, "y": {"datum": 43.54, "axis": null}, "text": {"value": "π"}}},
    {"data": {"values": [{}]}, "mark": {"type": "text", "align": "left", "baseline": "alphabetic", "font": "DejaVu Serif", "fontSize": 38, "fontWeight": "normal", "color": "#00ff00"},
      "encoding": {"x": {"datum": 5.1491, "axis": null}, "y": {"datum": 43.54, "axis": null}, "text": {"value": "→"}}},
    {"data": {"values": [{}]}, "mark": {"type": "text", "align": "left", "baseline": "alphabetic", "font": "Liberation Serif", "fontSize": 38, "fontWeight": "normal", "color": "#00ff00"},
      "encoding": {"x": {"datum": 5.1641, "axis": null}, "y": {"datum": 43.54, "axis": null}, "text": {"value": "ρ"}}},
    {"data": {"values": [{}]}, "mark": {"type": "text", "align": "left", "baseline": "alphabetic", "font": "Liberation Serif", "fontSize": 38, "fontWeight": "bold", "color": "#00ff00"},
      "encoding": {"x": {"datum": 5.1758, "axis": null}, "y": {"datum": 43.54, "axis": null}, "text": {"value": "feed across"}}},
    {"data": {"values": [{}]}, "mark": {"type": "text", "align": "left", "baseline": "alphabetic", "font": "Liberation Serif", "fontSize": 38, "fontWeight": "bold", "color": "#0000ff"},
      "encoding": {"x": {"datum": 5.1407, "axis": null}, "y": {"datum": 39.66, "axis": null}, "text": {"value": "b"}}},
    {"data": {"values": [{}]}, "mark": {"type": "text", "align": "left", "baseline": "alphabetic", "font": "DejaVu Serif", "fontSize": 38, "fontWeight": "normal", "color": "#0000ff"},
      "encoding": {"x": {"datum": 5.1499, "axis": null}, "y": {"datum": 39.66, "axis": null}, "text": {"value": "→"}}},
    {"data": {"values": [{}]}, "mark": {"type": "text", "align": "left", "baseline": "alphabetic", "font": "Liberation Serif", "fontSize": 38, "fontWeight": "bold", "color": "#0000ff"},
      "encoding": {"x": {"datum": 5.1654, "axis": null}, "y": {"datum": 39.66, "axis": null}, "text": {"value": "ul"}}},
    {"data": {"values": [{}]}, "mark": {"type": "text", "align": "left", "baseline": "alphabetic", "font": "Liberation Serif", "fontSize": 38, "fontWeight": "normal", "color": "#0000ff"},
      "encoding": {"x": {"datum": 5.1792, "axis": null}, "y": {"datum": 39.66, "axis": null}, "text": {"value": "ν"}}},
    {"data": {"values": [{}]}, "mark": {"type": "text", "align": "left", "baseline": "alphabetic", "font": "Liberation Serif", "fontSize": 38, "fontWeight": "bold", "color": "#0000ff"},
      "encoding": {"x": {"datum": 5.1884, "axis": null}, "y": {"datum": 39.66, "axis": null}, "text": {"value": "feeddown"}}},
    {"data": {"values": [{}]}, "mark": {"type": "text", "align": "left", "baseline": "alphabetic", "font": "Liberation Serif", "fontSize": 38, "fontWeight": "bold", "color": "#ff0000"},
      "encoding": {"x": {"datum": 5.1407, "axis": null}, "y": {"datum": 35.78, "axis": null}, "text": {"value": "b"}}},
    {"data": {"values": [{}]}, "mark": {"type": "text", "align": "left", "baseline": "alphabetic", "font": "DejaVu Serif", "fontSize": 38, "fontWeight": "normal", "color": "#ff0000"},
      "encoding": {"x": {"datum": 5.1499, "axis": null}, "y": {"datum": 35.78, "axis": null}, "text": {"value": "→"}}},
    {"data": {"values": [{}]}, "mark": {"type": "text", "align": "left", "baseline": "alphabetic", "font": "Liberation Serif", "fontSize": 38, "fontWeight": "bold", "color": "#ff0000"},
      "encoding": {"x": {"datum": 5.1659, "axis": null}, "y": {"datum": 35.78, "axis": null}, "text": {"value": "c"}}}
  ]
}
